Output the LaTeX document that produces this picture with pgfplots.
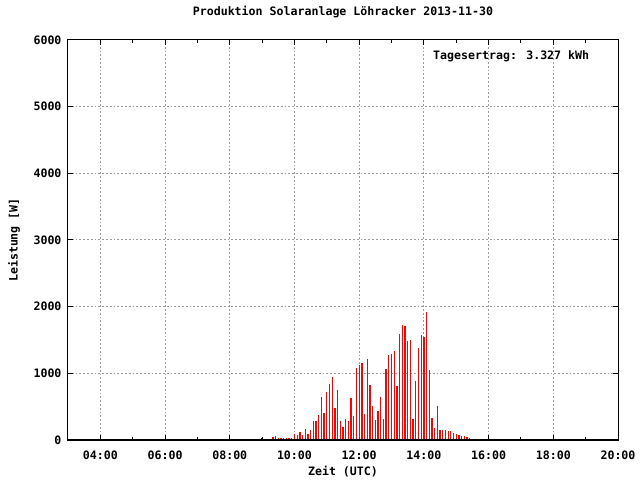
\documentclass[border=0pt]{standalone}
\usepackage{fontspec}
\setmainfont{DejaVu Sans Mono}
\usepackage{pgfplots}
\pgfplotsset{compat=1.18}
\definecolor{gridgray}{RGB}{155,155,155}
\newcommand{\gfont}{\fontsize{11.6bp}{14bp}\selectfont\bfseries}
\begin{document}
\begin{tikzpicture}
\useasboundingbox (-68bp,-40bp) rectangle (572bp,440bp);
\begin{axis}[
  at={(0,0)}, anchor=south west,
  scale only axis, width=550bp, height=400bp,
  xmin=180, xmax=1200, ymin=0, ymax=6000,
  xtick={240,360,...,1200},
  xticklabels={04:00,06:00,08:00,10:00,12:00,14:00,16:00,18:00,20:00},
  minor xtick={300,420,...,1140},
  ytick={0,1000,...,6000},
  tick align=inside,
  major tick length=5bp, minor tick length=3bp,
  xmajorgrids, ymajorgrids,
  major grid style={gridgray, line width=1bp, dash pattern=on 1.8bp off 2bp},
  axis line style={black, line width=1bp},
  every tick/.style={black, line width=1bp},
  tick label style={font=\gfont},
  /pgf/number format/assume math mode=true,
  /pgf/number format/1000 sep={},
  scaled y ticks=false,
  yticklabel style={xshift=-3bp},
  xticklabel style={yshift=-7bp},
  title={Produktion Solaranlage Löhracker 2013-11-30},
  title style={font=\gfont, at={(axis description cs:0.5,1.055)}, anchor=center},
  xlabel={Zeit (UTC)},
  xlabel style={font=\gfont, at={(axis description cs:0.5,-0.08)}, anchor=center},
  ylabel={Leistung [W]},
  ylabel style={font=\gfont, at={(axis description cs:-0.098,0.5)}, anchor=center},
]
\addplot[ycomb, red, line width=1.3bp, mark=none] coordinates {
(525,15) (530,15) (535,15) (545,15) (550,15) (555,15)
(560,45) (565,60) (570,30) (575,30) (580,30) (585,30) (590,30) (595,30)
(600,95) (605,75) (610,120) (615,80) (620,165) (625,95) (630,150) (635,285)
(640,285) (645,375) (650,645) (655,405) (660,720) (665,840) (670,945) (675,480)
(680,750) (685,285) (690,195) (695,315) (700,285) (705,630) (710,360) (715,1080)
(720,1125) (725,1155) (730,390) (735,1215) (740,825) (745,510) (750,300) (755,435)
(760,645) (765,315) (770,1065) (775,1275) (780,1290) (785,1335) (790,810) (795,1590)
(800,1725) (805,1710) (810,1485) (815,1500) (820,315) (825,885) (830,1380) (835,1575)
(840,1545) (845,1920) (850,1050) (855,330) (860,180) (865,510) (870,150) (875,150)
(880,150) (885,135) (890,135) (895,105) (900,90) (905,75) (910,60) (915,60)
(920,45) (925,30) (930,15) (935,15) (940,15)
};
\addplot[ycomb, black, line width=1.3bp, mark=none] coordinates {(540,30)};
\draw[black, line width=2bp] (rel axis cs:0,0) -- (rel axis cs:1,0);
\node[anchor=west, inner sep=0pt, font=\gfont] at (axis description cs:0.6636,0.96) {Tagesertrag: 3.327 kWh};
\end{axis}
\end{tikzpicture}
\end{document}
